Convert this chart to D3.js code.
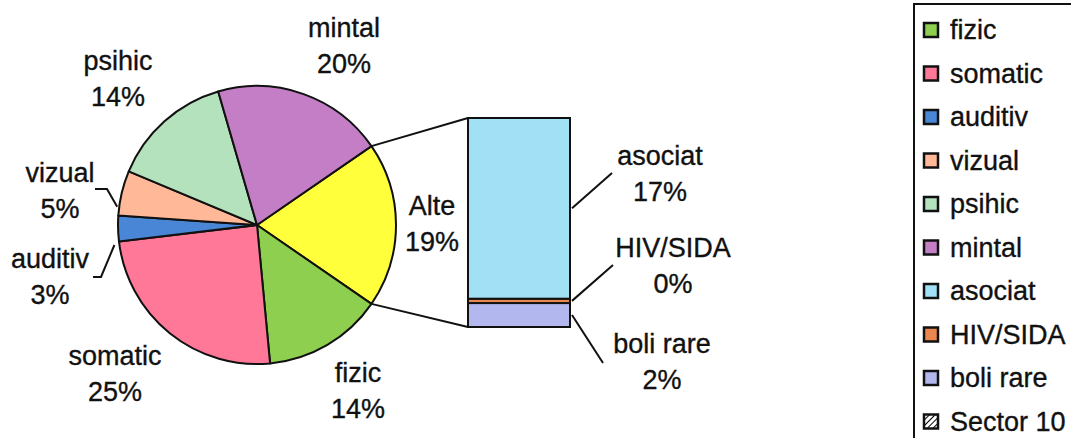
<!DOCTYPE html>
<html>
<head>
<meta charset="utf-8">
<script src="https://cdn.jsdelivr.net/npm/d3@7"></script>
<style>
  body { margin: 0; background: #fff; }
  text { font-family: "Liberation Sans", Arial, sans-serif; font-size: 27px; fill: #111; stroke: #111; stroke-width: 0.35px; }
</style>
</head>
<body>
<svg id="chart" width="1071" height="438"></svg>
<script>
// primary pie (clockwise, starting with the "Alte" slice)
const pieNames = ['Alte', 'fizic', 'somatic', 'auditiv', 'vizual', 'psihic', 'mintal'];
const pieValues = [19.2, 13.9, 24.6, 3.0, 5.2, 14.2, 19.9];

// secondary bar (breakdown of "Alte"), bottom to top
const barNames = ['boli rare', 'HIV/SIDA', 'asociat'];
const barValues = [2.2, 0.4, 16.6];

const legendNames = ['fizic', 'somatic', 'auditiv', 'vizual', 'psihic', 'mintal', 'asociat', 'HIV/SIDA', 'boli rare', 'Sector 10'];

const colors = {
  Alte: '#ffff3c', fizic: '#8fcf50', somatic: '#ff7898', auditiv: '#4a86d6',
  vizual: '#ffb898', psihic: '#b4e2bc', mintal: '#c47ec6',
  asociat: '#a2e0f6', 'HIV/SIDA': '#e8874e', 'boli rare': '#b2b8ee'
};

// label layout: [centre x, first baseline]
const labelPos = {
  mintal: [344, 37], psihic: [118, 70], vizual: [60, 182], auditiv: [50, 268],
  somatic: [115, 365], fizic: [358, 382], Alte: [432, 215],
  asociat: [660, 165], 'HIV/SIDA': [673, 257], 'boli rare': [662, 353]
};

const svg = d3.select('#chart');

const defs = svg.append('defs');
const hatch = defs.append('pattern')
  .attr('id', 'hatch').attr('width', 4).attr('height', 4)
  .attr('patternUnits', 'userSpaceOnUse')
  .attr('patternTransform', 'rotate(45)');
hatch.append('rect').attr('width', 4).attr('height', 4).attr('fill', '#fff');
hatch.append('line').attr('x1', 0).attr('y1', 0).attr('x2', 0).attr('y2', 4)
  .attr('stroke', '#000').attr('stroke-width', 2);

const cx = 257, cy = 225, r = 139;
const toRad = Math.PI / 180;
const altShare = pieValues[0] / d3.sum(pieValues) * 360;

const pie = d3.pie().sort(null).value(d => d)
  .startAngle((90 - altShare / 2) * toRad)
  .endAngle((450 - altShare / 2) * toRad);
const arcs = pie(pieValues);
const arc = d3.arc().innerRadius(0).outerRadius(r);

const g = svg.append('g').attr('transform', `translate(${cx},${cy})`);
g.selectAll('path')
  .data(arcs)
  .join('path')
  .attr('d', arc)
  .attr('fill', (d, i) => colors[pieNames[i]])
  .attr('stroke', '#111')
  .attr('stroke-width', 2)
  .attr('stroke-linejoin', 'round');

const pt = (a, rr) => [cx + rr * Math.sin(a), cy - rr * Math.cos(a)];

// stacked bar
const bx0 = 468, bx1 = 570;
const y = d3.scaleLinear().domain([0, d3.sum(barValues)]).range([327, 118]);
const stack = [];
let acc = 0;
barValues.forEach((v, i) => { stack.push({ name: barNames[i], y0: acc, y1: acc + v }); acc += v; });

svg.append('g').selectAll('rect')
  .data(stack)
  .join('rect')
  .attr('x', bx0)
  .attr('width', bx1 - bx0)
  .attr('y', d => y(d.y1))
  .attr('height', d => y(d.y0) - y(d.y1))
  .attr('fill', d => colors[d.name])
  .attr('stroke', '#111')
  .attr('stroke-width', 2);

// connector lines
const altArc = arcs[0];
const pTop = pt(altArc.startAngle, r);
const pBot = pt(altArc.endAngle, r);
svg.append('line').attr('x1', pTop[0]).attr('y1', pTop[1]).attr('x2', bx0).attr('y2', y.range()[1])
  .attr('stroke', '#111').attr('stroke-width', 2);
svg.append('line').attr('x1', pBot[0]).attr('y1', pBot[1]).attr('x2', bx0).attr('y2', y.range()[0])
  .attr('stroke', '#111').attr('stroke-width', 2);

// labels
function label(name, value) {
  const [x, by] = labelPos[name];
  const t = svg.append('text').attr('text-anchor', 'middle');
  t.append('tspan').attr('x', x).attr('y', by).text(name);
  t.append('tspan').attr('x', x).attr('y', by + 36).text(Math.round(value) + '%');
}
pieNames.forEach((n, i) => label(n, pieValues[i]));
barNames.forEach((n, i) => label(n, barValues[i]));

// leader lines for the small pie slices
const lead = d3.line();
const vizA = arcs[4].startAngle + 0.06;
const audA = arcs[3].startAngle - 0.02;
const pv = pt(vizA, r + 2), pa = pt(audA, r + 5);
svg.append('path').attr('d', lead([[95, 189], [107, 189], pv]))
  .attr('fill', 'none').attr('stroke', '#111').attr('stroke-width', 2);
svg.append('path').attr('d', lead([[93, 277], [101, 277], pa]))
  .attr('fill', 'none').attr('stroke', '#111').attr('stroke-width', 2);

// leader lines for the bar
const mid = d => y((d.y0 + d.y1) / 2);
svg.append('path').attr('d', lead([[bx1 + 2, mid(stack[2])], [612, 173]]))
  .attr('fill', 'none').attr('stroke', '#111').attr('stroke-width', 2);
svg.append('path').attr('d', lead([[bx1 + 2, mid(stack[1])], [613, 265]]))
  .attr('fill', 'none').attr('stroke', '#111').attr('stroke-width', 2);
svg.append('path').attr('d', lead([[bx1 + 2, mid(stack[0])], [603, 363]]))
  .attr('fill', 'none').attr('stroke', '#111').attr('stroke-width', 2);

// legend
const lg = svg.append('g');
lg.append('rect').attr('x', 914).attr('y', 4).attr('width', 170).attr('height', 450)
  .attr('fill', '#fff').attr('stroke', '#111').attr('stroke-width', 2);
const item = lg.selectAll('g.item')
  .data(legendNames)
  .join('g')
  .attr('class', 'item')
  .attr('transform', (d, i) => `translate(0,${30 + i * 43.5})`);
item.append('rect')
  .attr('x', 924).attr('y', -7).attr('width', 14).attr('height', 14)
  .attr('fill', d => colors[d] || 'url(#hatch)')
  .attr('stroke', '#111').attr('stroke-width', 2.5);
item.append('text')
  .attr('x', 950).attr('y', 9)
  .text(d => d);
</script>
</body>
</html>
